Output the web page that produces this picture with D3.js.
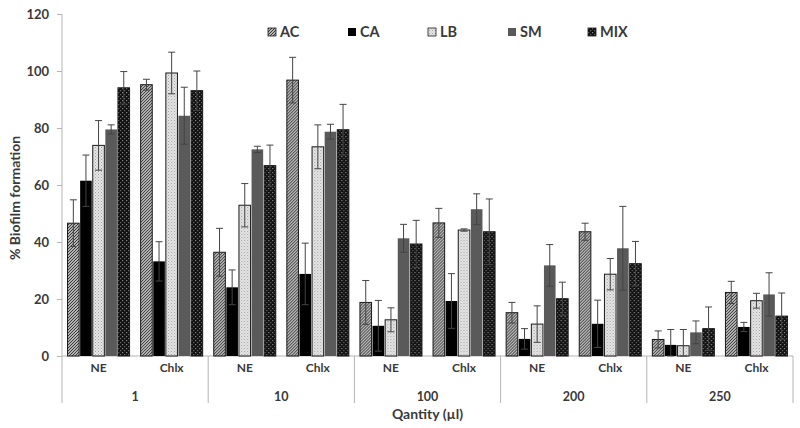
<!DOCTYPE html>
<html><head><meta charset="utf-8">
<script src="https://cdn.jsdelivr.net/npm/d3@7"></script>
<style>body{margin:0;background:#fff}svg{display:block}text{font-family:Lato,"Open Sans",sans-serif;font-weight:bold;fill:#3a3a3a}</style>
</head><body><svg id="c" width="800" height="428"></svg>
<script>
const groups = ["1","10","100","200","250"];
const subgroups = ["NE","Chlx"];
const series = ["AC","CA","LB","SM","MIX"];
const yTicks = [0,20,40,60,80,100,120];
// values per series, ordered: 1-NE,1-Chlx,10-NE,10-Chlx,100-NE,100-Chlx,200-NE,200-Chlx,250-NE,250-Chlx
const AC  = [46.6,95.2,36.4,96.8,18.8,46.7,15.2,43.6,5.8,22.3];
const CA  = [61.5,33.2,24.1,28.8,10.6,19.3,6.0,11.3,3.9,10.2];
const LB  = [73.9,99.3,52.9,73.4,12.7,44.2,11.2,28.7,3.6,19.4];
const SM  = [79.5,84.3,72.5,78.7,41.3,51.5,31.8,37.8,8.3,21.6];
const MIX = [94.1,93.1,66.8,79.4,39.3,43.6,20.1,32.4,9.6,14.0];
const AC_err  = [8.2,1.9,8.4,8.0,7.7,5.1,3.6,3.0,3.0,3.9];
const CA_err  = [9.0,6.9,6.1,10.8,8.9,9.6,3.6,8.3,5.4,1.6];
const LB_err  = [8.7,7.3,7.6,7.7,4.2,0.4,6.4,5.5,5.7,2.6];
const SM_err  = [1.6,10.0,1.1,2.6,4.9,5.4,7.3,14.7,4.0,7.6];
const MIX_err = [5.7,6.9,7.2,8.9,8.3,11.5,5.8,7.8,7.6,8.1];

const vals = {AC, CA, LB, SM, MIX};
const errs = {AC:AC_err, CA:CA_err, LB:LB_err, SM:SM_err, MIX:MIX_err};

const svg = d3.select("#c");
const L = 62, R = 793, T = 14, B = 356, bottomEnd = 403;

// patterns
const defs = svg.append("defs");
const pAC = defs.append("pattern").attr("id","pAC").attr("patternUnits","userSpaceOnUse").attr("width",3).attr("height",3);
pAC.append("rect").attr("width",3).attr("height",3).attr("fill","#b4b4b4");
pAC.append("path").attr("d","M-1,1 L1,-1 M0,3 L3,0 M2,4 L4,2").attr("stroke","#383838").attr("stroke-width",1);
const pLB = defs.append("pattern").attr("id","pLB").attr("patternUnits","userSpaceOnUse").attr("width",3).attr("height",3);
pLB.append("rect").attr("width",3).attr("height",3).attr("fill","#e6e6e6");
pLB.append("rect").attr("x",0).attr("y",0).attr("width",1).attr("height",1).attr("fill","#a0a0a0");
pLB.append("rect").attr("x",1.5).attr("y",1.5).attr("width",1).attr("height",1).attr("fill","#b5b5b5");
const pMIX = defs.append("pattern").attr("id","pMIX").attr("patternUnits","userSpaceOnUse").attr("width",4).attr("height",4);
pMIX.append("rect").attr("width",4).attr("height",4).attr("fill","#111");
pMIX.append("rect").attr("x",0).attr("y",0).attr("width",1.2).attr("height",1.2).attr("fill","#8a8a8a");
pMIX.append("rect").attr("x",2).attr("y",2).attr("width",1.2).attr("height",1.2).attr("fill","#6a6a6a");

const fills = {AC:"url(#pAC)", CA:"#000", LB:"url(#pLB)", SM:"#5a5a5a", MIX:"url(#pMIX)"};
const strokes = {AC:"#1a1a1a", CA:"none", LB:"#1a1a1a", SM:"none", MIX:"#1a1a1a"};

const combos = [];
groups.forEach(g => subgroups.forEach(s => combos.push(g+"|"+s)));

const y = d3.scaleLinear().domain([0,120]).range([B, T]);
const xOuter = d3.scaleBand().domain(groups).range([L, R]).padding(0);
const x0 = d3.scaleBand().domain(combos).range([L, R]).padding(0);
const x1 = d3.scaleBand().domain(series).range([0, x0.bandwidth()]).paddingOuter(0.4).paddingInner(0);

// y axis
const yAxis = d3.axisLeft(y).tickValues(yTicks).tickSize(5).tickPadding(8);
const ga = svg.append("g").attr("transform",`translate(${L},0)`).call(yAxis);
ga.select(".domain").remove();
ga.selectAll(".tick line").attr("stroke","#b5b5b5");
ga.selectAll(".tick text").style("font-size","13px").attr("fill","#3a3a3a");
svg.append("line").attr("x1",L).attr("x2",L).attr("y1",T).attr("y2",bottomEnd).attr("stroke","#b5b5b5");

// x axis line
svg.append("line").attr("x1",L).attr("x2",R).attr("y1",B).attr("y2",B).attr("stroke","#b5b5b5");
// group dividers
groups.forEach(g => {
  const xe = xOuter(g) + xOuter.bandwidth();
  svg.append("line").attr("x1",xe).attr("x2",xe).attr("y1",B).attr("y2",bottomEnd).attr("stroke","#b5b5b5");
});

// bars
combos.forEach((c, i) => {
  const g = svg.append("g").attr("transform",`translate(${x0(c)},0)`);
  series.forEach(s => {
    const v = vals[s][i];
    g.append("rect").attr("x",x1(s)+0.5).attr("y",y(v)).attr("width",x1.bandwidth()-1).attr("height",y(0)-y(v))
      .attr("fill",fills[s]).attr("stroke",strokes[s]).attr("stroke-width",1);
  });
  series.forEach(s => {
    const v = vals[s][i], e = errs[s][i];
    const lo = Math.max(0, v - e);
    const cx = x1(s) + x1.bandwidth()/2;
    g.append("line").attr("x1",cx).attr("x2",cx).attr("y1",y(v+e)).attr("y2",y(lo)).attr("stroke","#444").attr("stroke-width",1);
    [v+e, lo].forEach(t => g.append("line").attr("x1",cx-3.5).attr("x2",cx+3.5).attr("y1",y(t)).attr("y2",y(t)).attr("stroke","#444").attr("stroke-width",1));
  });
  // subgroup label
  svg.append("text").attr("x",x0(c)+x0.bandwidth()/2).attr("y",372).attr("text-anchor","middle").style("font-size","12px").text(c.split("|")[1]);
});

groups.forEach(g => {
  svg.append("text").attr("x",xOuter(g)+xOuter.bandwidth()/2).attr("y",401).attr("text-anchor","middle").style("font-size","12.5px").text(g);
});

svg.append("text").attr("x",(L+R)/2).attr("y",419).attr("text-anchor","middle").style("font-size","14px").text("Qantity (µl)");
svg.append("text").attr("transform","translate(20,198) rotate(-90)").attr("text-anchor","middle").style("font-size","14px").text("% Biofilm formation");

// legend
const lg = svg.append("g");
series.forEach((s, i) => {
  const lx = 268 + i*80;
  lg.append("rect").attr("x",lx).attr("y",28).attr("width",8).attr("height",8).attr("fill",fills[s]).attr("stroke", s==="CA"||s==="SM" ? "none" : "#1a1a1a").attr("stroke-width",0.8);
  lg.append("text").attr("x",lx+12).attr("y",37).style("font-size","14.5px").text(s);
});
</script></body></html>
